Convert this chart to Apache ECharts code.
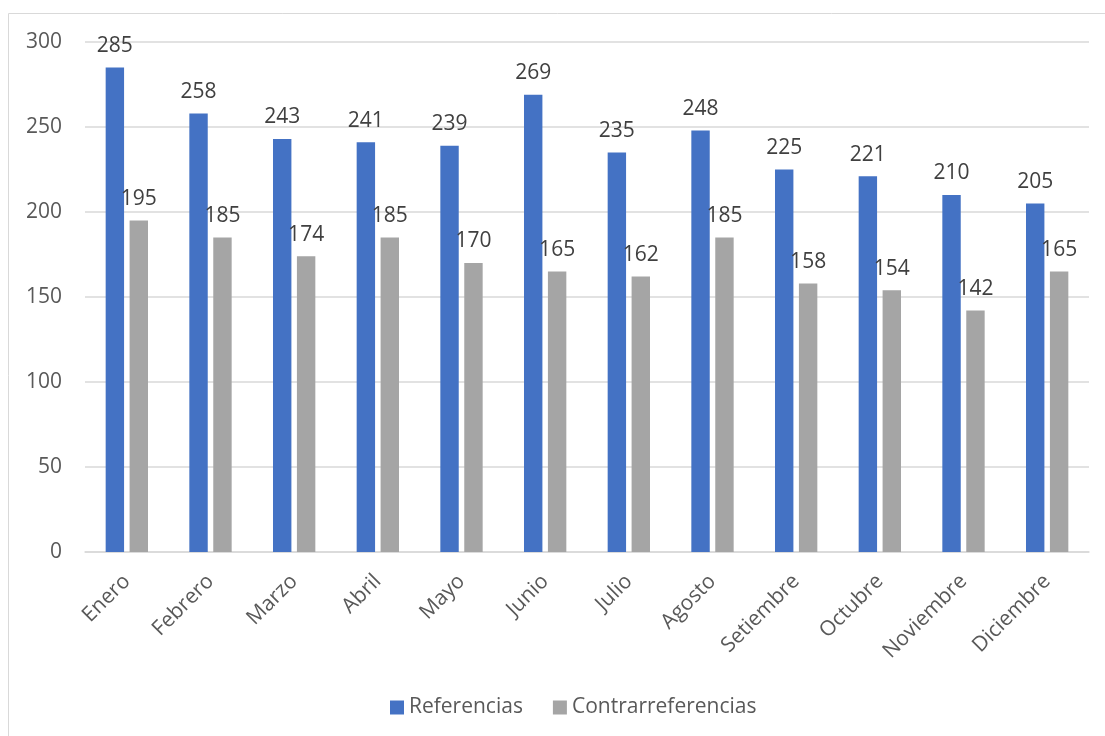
<!DOCTYPE html>
<html><head><meta charset="utf-8">
<script src="https://cdn.jsdelivr.net/npm/echarts@6/dist/echarts.min.js"></script>
<style>html,body{margin:0;padding:0;background:#fff}#c{width:1105px;height:736px}</style>
</head><body><div id="c"></div>
<script>
const categories = ['Enero','Febrero','Marzo','Abril','Mayo','Junio','Julio','Agosto','Setiembre','Octubre','Noviembre','Diciembre'];
const referencias = [285,258,243,241,239,269,235,248,225,221,210,205];
const contrarreferencias = [195,185,174,185,170,165,162,185,158,154,142,165];
const seriesNames = ['Referencias','Contrarreferencias'];
const FONT = '"Open Sans", sans-serif';
const chart = echarts.init(document.getElementById('c'));
chart.setOption({
  animation:false,
  textStyle:{fontFamily:FONT},
  graphic:[{type:'rect',shape:{x:8.5,y:13.5,width:1120,height:760},style:{fill:'none',stroke:'#d9d9d9',lineWidth:1},silent:true}],
  grid:{left:85,right:16,top:42,bottom:184,containLabel:false},
  legend:{top:692,left:385,itemWidth:14,itemHeight:14,itemGap:30,icon:'rect',
    textStyle:{fontSize:21,color:'#595959',fontFamily:FONT}},
  xAxis:{type:'category',data:categories,
    axisLine:{lineStyle:{color:'#d9d9d9',width:1.5}},axisTick:{show:false},
    axisLabel:{rotate:45,fontSize:21,color:'#595959',margin:26,fontFamily:FONT}},
  yAxis:{type:'value',min:0,max:300,interval:50,
    axisLine:{show:false},axisTick:{show:false},
    splitLine:{lineStyle:{color:'#d9d9d9',width:1.5}},
    axisLabel:{fontSize:21,color:'#595959',margin:23,fontFamily:FONT}},
  series:[
    {name:seriesNames[0],type:'bar',data:referencias,barWidth:'22%',barGap:'30%',
     itemStyle:{color:'#4472c4'},
     label:{show:true,position:'top',fontSize:21,color:'#404040',distance:11,fontFamily:FONT}},
    {name:seriesNames[1],type:'bar',data:contrarreferencias,barWidth:'22%',
     itemStyle:{color:'#a5a5a5'},
     label:{show:true,position:'top',fontSize:21,color:'#404040',distance:11,fontFamily:FONT}}
  ]
});
</script></body></html>
